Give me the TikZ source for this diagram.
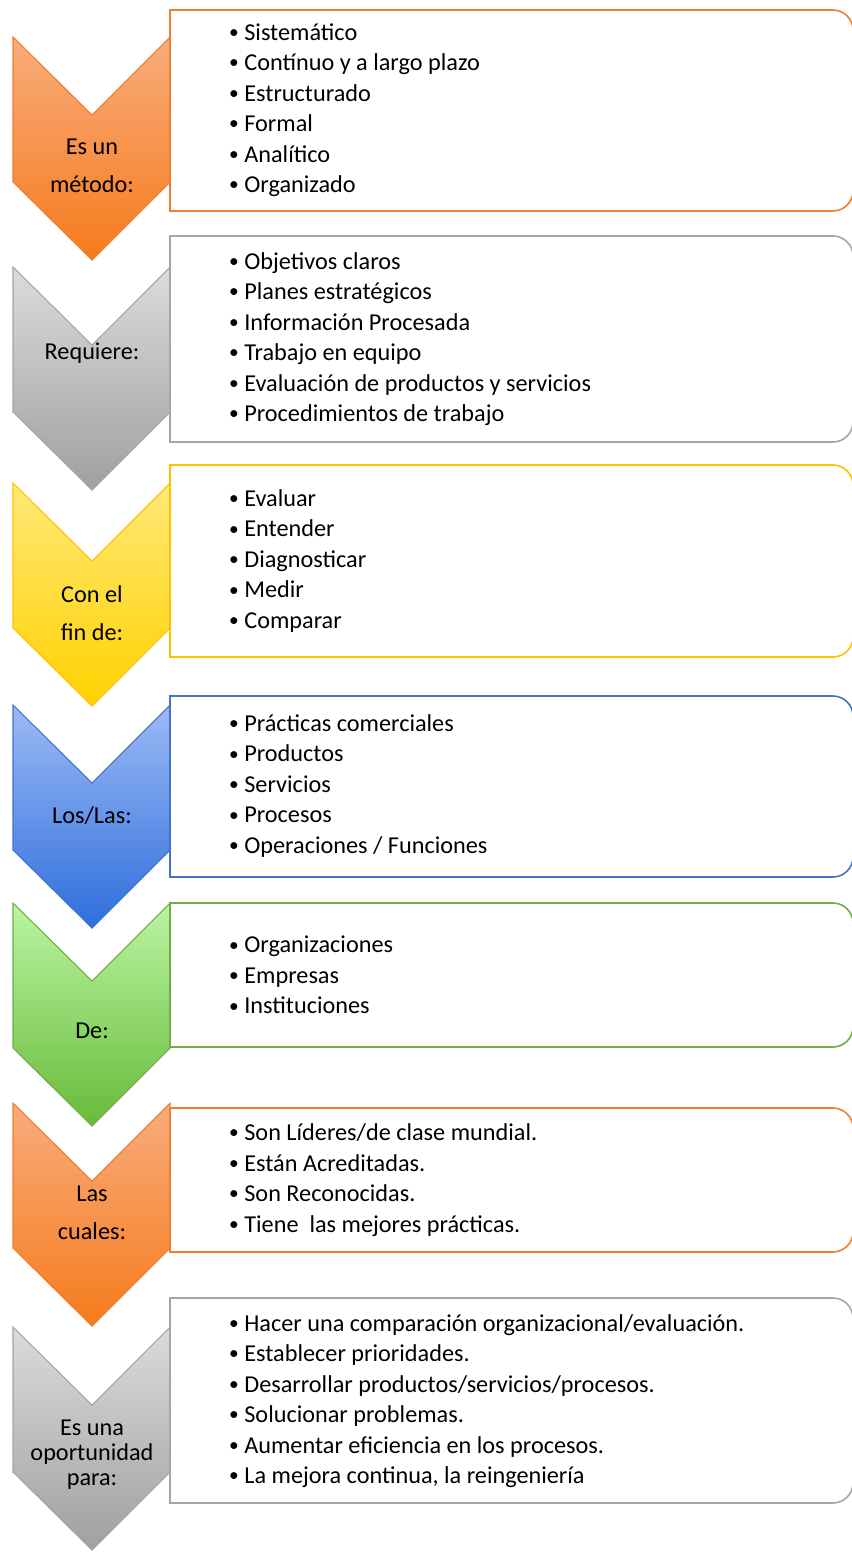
\documentclass[tikz,border=0pt]{standalone}
\usepackage{fontspec}
\setmainfont{Carlito}
\usetikzlibrary{positioning}
\definecolor{orangeline}{HTML}{ED7D31}
\definecolor{grayline}{HTML}{A5A5A5}
\definecolor{yellowline}{HTML}{FFC000}
\definecolor{blueline}{HTML}{4472C4}
\definecolor{greenline}{HTML}{70AD47}
\newcommand{\itm}{\llap{\raisebox{0.15ex}{\scalebox{0.8}{\textbullet}}\hspace{3.2pt}}}

\begin{document}
\begin{tikzpicture}[x=0.02cm, y=-0.02cm]
                    \tikzstyle{every node}=[font=\fontsize{13.8}{17.35}\selectfont, inner sep=0pt]
                    \tikzstyle{box} = [line width=0.9pt, fill=white]
                    \tikzstyle{chevorange} = [draw=orangeline, line width=0.6pt, top color={rgb,255:red,248;green,172;blue,124}, bottom color={rgb,255:red,246;green,123;blue,28}]
                    \tikzstyle{chevgray} = [draw=grayline, line width=0.6pt, top color={rgb,255:red,219;green,219;blue,219}, bottom color={rgb,255:red,160;green,160;blue,160}]
                    \tikzstyle{chevyellow} = [draw=yellowline, line width=0.6pt, top color={rgb,255:red,255;green,232;blue,120}, bottom color={rgb,255:red,255;green,210;blue,0}]
                    \tikzstyle{chevblue} = [draw=blueline, line width=0.6pt, top color={rgb,255:red,156;green,186;blue,246}, bottom color={rgb,255:red,46;green,110;blue,220}]
                    \tikzstyle{chevgreen} = [draw=greenline, line width=0.6pt, top color={rgb,255:red,186;green,245;blue,163}, bottom color={rgb,255:red,104;green,186;blue,58}]
                    \tikzstyle{chevlabel} = [align=center]
                    \tikzstyle{items} = [align=left, anchor=west]

                    \useasboundingbox (0,0) rectangle (852,1553);

                    % chevrons
                    \foreach \t/\sty in {37/chevorange, 267/chevgray, 483/chevyellow, 705/chevblue, 903/chevgreen, 1103/chevorange, 1327/chevgray}
                        \draw[\sty] (13,\t) -- (92,\t+78) -- (170,\t) -- (170,\t+145) -- (92,\t+223) -- (13,\t+145) -- cycle;

                    % boxes, rounded on the right
                    \foreach \top/\bot/\col in {10/211/orangeline, 236/442/grayline, 465/657/yellowline, 696/877/blueline, 903/1047/greenline, 1108/1252/orangeline, 1298/1503/grayline}
                        \draw[box, draw=\col] (170,\top) -- (833,\top) .. controls (844,\top) and (853,\top+9) .. (853,\top+20) -- (853,\bot-20) .. controls (853,\bot-9) and (844,\bot) .. (833,\bot) -- (170,\bot) -- cycle;

                    % chevron labels
                    \node[chevlabel, font=\fontsize{13.8}{21.5}\selectfont](c1) at (92,166) {Es un\\método:};
                    \node[chevlabel](c2) at (92,353) {Requiere:};
                    \node[chevlabel, font=\fontsize{13.8}{21.5}\selectfont](c3) at (92,613) {Con el\\fin de:};
                    \node[chevlabel](c4) at (92,816) {Los/Las:};
                    \node[chevlabel](c5) at (92,1031) {De:};
                    \node[chevlabel, font=\fontsize{13.8}{21.5}\selectfont](c6) at (92,1213) {Las\\cuales:};
                    \node[chevlabel, font=\fontsize{13.8}{14.2}\selectfont](c7) at (92,1455) {Es una\\oportunidad\\para:};

                    % box texts
                    \node[items](l1) at (244,110) {\itm Sistemático\\\itm Contínuo y a largo plazo\\\itm Estructurado\\\itm Formal\\\itm Analítico\\\itm Organizado};
                    \node[items](l2) at (244,339) {\itm Objetivos claros\\\itm Planes estratégicos\\\itm Información Procesada\\\itm Trabajo en equipo\\\itm Evaluación de productos y servicios\\\itm Procedimientos de trabajo};
                    \node[items](l3) at (244,561) {\itm Evaluar\\\itm Entender\\\itm Diagnosticar\\\itm Medir\\\itm Comparar};
                    \node[items](l4) at (244,786) {\itm Prácticas comerciales\\\itm Productos\\\itm Servicios\\\itm Procesos\\\itm Operaciones / Funciones};
                    \node[items](l5) at (244,975) {\itm Organizaciones\\\itm Empresas\\\itm Instituciones};
                    \node[items](l6) at (244,1180) {\itm Son Líderes/de clase mundial.\\\itm Están Acreditadas.\\\itm Son Reconocidas.\\\itm Tiene \ las mejores prácticas.};
                    \node[items](l7) at (244,1401) {\itm Hacer una comparación organizacional/evaluación.\\\itm Establecer prioridades.\\\itm Desarrollar productos/servicios/procesos.\\\itm Solucionar problemas.\\\itm Aumentar eficiencia en los procesos.\\\itm La mejora continua, la reingeniería};
\end{tikzpicture}
\end{document}
